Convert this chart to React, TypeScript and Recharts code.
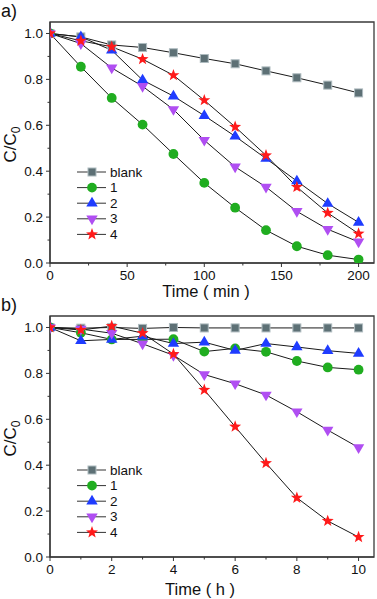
import React from "react";
import { LineChart, Line, XAxis, YAxis, ReferenceArea, Legend, Label } from "recharts";

const FONT = '"Liberation Sans", Arial, sans-serif';

// panel a) time in minutes
const TIME_A = [0, 20, 40, 60, 80, 100, 120, 140, 160, 180, 200];
const BLANK_A = [1.0, 0.985, 0.95, 0.939, 0.916, 0.891, 0.868, 0.837, 0.807, 0.775, 0.741];
const S1_A = [1.0, 0.855, 0.719, 0.603, 0.475, 0.349, 0.241, 0.143, 0.073, 0.034, 0.015];
const S2_A = [1.0, 0.985, 0.927, 0.797, 0.727, 0.642, 0.552, 0.455, 0.357, 0.259, 0.177];
const S3_A = [1.0, 0.956, 0.85, 0.77, 0.669, 0.535, 0.419, 0.331, 0.225, 0.147, 0.092];
const S4_A = [1.0, 0.968, 0.942, 0.888, 0.818, 0.709, 0.593, 0.469, 0.331, 0.218, 0.128];

// panel b) time in hours
const TIME_B = [0, 1, 2, 3, 4, 5, 6, 7, 8, 9, 10];
const BLANK_B = [1.0, 0.997, 1.0, 0.996, 1.0, 0.998, 0.998, 0.998, 0.998, 0.998, 0.998];
const S1_B = [1.0, 0.977, 0.948, 0.948, 0.949, 0.895, 0.909, 0.894, 0.854, 0.826, 0.816];
const S2_B = [1.0, 0.942, 0.948, 0.962, 0.93, 0.936, 0.9, 0.93, 0.915, 0.899, 0.887];
const S3_B = [1.0, 0.993, 0.975, 0.929, 0.879, 0.795, 0.755, 0.706, 0.633, 0.553, 0.477];
const S4_B = [1.0, 0.989, 1.006, 0.975, 0.884, 0.728, 0.568, 0.409, 0.258, 0.157, 0.087];

const X_TICKS_A = [0, 25, 50, 75, 100, 125, 150, 175, 200];
const X_MAJOR_A = [0, 50, 100, 150, 200];
const X_TICKS_B = [0, 1, 2, 3, 4, 5, 6, 7, 8, 9, 10];
const X_MAJOR_B = [0, 2, 4, 6, 8, 10];
const Y_TICKS = [0, 0.1, 0.2, 0.3, 0.4, 0.5, 0.6, 0.7, 0.8, 0.9, 1.0];
const Y_MAJOR = [0, 0.2, 0.4, 0.6, 0.8, 1.0];

const SERIES = [
  { key: "blank", name: "blank", shape: "square", color: "#5d7075" },
  { key: "s1", name: "1", shape: "circle", color: "#20ad20" },
  { key: "s2", name: "2", shape: "up", color: "#1f3cff" },
  { key: "s3", name: "3", shape: "down", color: "#b04ef2" },
  { key: "s4", name: "4", shape: "star", color: "#ff1a1a" },
];

function rows(t: number[], cols: number[][]) {
  return t.map((x, i) => ({
    t: x,
    blank: cols[0][i],
    s1: cols[1][i],
    s2: cols[2][i],
    s3: cols[3][i],
    s4: cols[4][i],
  }));
}

const DATA_A = rows(TIME_A, [BLANK_A, S1_A, S2_A, S3_A, S4_A]);
const DATA_B = rows(TIME_B, [BLANK_B, S1_B, S2_B, S3_B, S4_B]);

function starPath(cx: number, cy: number, ro: number, ri: number) {
  let d = "";
  for (let i = 0; i < 10; i++) {
    const r = i % 2 === 0 ? ro : ri;
    const a = -Math.PI / 2 + (i * Math.PI) / 5;
    d += (i === 0 ? "M" : "L") + (cx + r * Math.cos(a)).toFixed(2) + "," + (cy + r * Math.sin(a)).toFixed(2);
  }
  return d + "Z";
}

function Marker({ shape, color, cx, cy }: { shape: string; color: string; cx: number; cy: number }) {
  if (shape === "square")
    return <rect x={cx - 4} y={cy - 4} width={8} height={8} fill={color} stroke="#aebbbf" strokeWidth={1} />;
  if (shape === "circle") return <circle cx={cx} cy={cy} r={4.9} fill={color} />;
  if (shape === "up")
    return <path d={`M${cx},${cy - 6.4}L${cx + 5.7},${cy + 3.3}L${cx - 5.7},${cy + 3.3}Z`} fill={color} />;
  if (shape === "down")
    return <path d={`M${cx},${cy + 6.4}L${cx + 5.7},${cy - 3.3}L${cx - 5.7},${cy - 3.3}Z`} fill={color} />;
  return <path d={starPath(cx, cy, 6.3, 2.6)} fill={color} />;
}

function LegendBox() {
  return (
    <svg width={80} height={80} style={{ display: "block" }}>
      {SERIES.map((s, i) => (
        <g key={s.key} transform={`translate(0, ${i * 15.6})`}>
          <line x1={0} x2={29} y1={8} y2={8} stroke="#333" strokeWidth={1} />
          <Marker shape={s.shape} color={s.color} cx={15} cy={8} />
          <text x={33} y={12.5} fontSize={13.5} fontFamily={FONT} fill="#111">
            {s.name}
          </text>
        </g>
      ))}
    </svg>
  );
}

function makeXTick(major: number[]) {
  return (props: any) => {
    const { x, y, payload } = props;
    const isMajor = major.includes(payload.value);
    return (
      <g>
        <line x1={x} x2={x} y1={y} y2={y + (isMajor ? 4 : 2.5)} stroke="#333" strokeWidth={1} />
        {isMajor && (
          <text x={x} y={y + 17} textAnchor="middle" fontSize={13.5} fontFamily={FONT} fill="#111">
            {payload.value}
          </text>
        )}
      </g>
    );
  };
}

function YTick(props: any) {
  const { x, y, payload } = props;
  const isMajor = Y_MAJOR.some((m) => Math.abs(m - payload.value) < 1e-6);
  return (
    <g>
      <line x1={x - (isMajor ? 4 : 2.5)} x2={x} y1={y} y2={y} stroke="#333" strokeWidth={1} />
      {isMajor && (
        <text x={x - 7} y={y + 4.5} textAnchor="end" fontSize={13.5} fontFamily={FONT} fill="#111">
          {payload.value.toFixed(1)}
        </text>
      )}
    </g>
  );
}

interface PanelProps {
  data: any[];
  height: number;
  top: number;
  xAxisHeight: number;
  xMax: number;
  xTicks: number[];
  xMajor: number[];
  xLabel: string;
  xLabelCenter: number;
  xLabelOffset: number;
  legendTop: number;
}

function Panel(props: PanelProps) {
  const { data, height, top, xAxisHeight, xMax, xTicks, xMajor, xLabel, xLabelCenter, xLabelOffset, legendTop } = props;
  return (
    <LineChart width={377} height={height} data={data} margin={{ top, right: 3, left: 0, bottom: 0 }}>
      <XAxis
        dataKey="t"
        type="number"
        domain={[0, xMax]}
        ticks={xTicks}
        interval={0}
        height={xAxisHeight}
        tickSize={0}
        tickMargin={0}
        tickLine={false}
        tick={makeXTick(xMajor)}
        axisLine={{ stroke: "#333", strokeWidth: 1.2 }}
        allowDataOverflow
      >
        <Label
          content={(p: any) => (
            <text
              x={xLabelCenter}
              y={p.viewBox.y + xLabelOffset}
              textAnchor="middle"
              fontSize={16.5}
              fontFamily={FONT}
              fill="#111"
            >
              {xLabel}
            </text>
          )}
        />
      </XAxis>
      <YAxis
        type="number"
        domain={[0, 1.05]}
        ticks={Y_TICKS}
        interval={0}
        width={50}
        tickSize={0}
        tickMargin={0}
        tickLine={false}
        tick={YTick}
        axisLine={{ stroke: "#333", strokeWidth: 1.2 }}
        allowDataOverflow
      >
        <Label
          content={(p: any) => {
            const cy = p.viewBox.y + p.viewBox.height / 2 + 2;
            return (
              <text
                x={16}
                y={cy}
                transform={`rotate(-90, 16, ${cy})`}
                textAnchor="middle"
                fontSize={17}
                fontFamily={FONT}
                fill="#111"
              >
                C/C
                <tspan fontSize={12} dy={4}>
                  0
                </tspan>
              </text>
            );
          }}
        />
      </YAxis>
      <ReferenceArea x1={0} x2={xMax} y1={0} y2={1.05} fill="none" stroke="#3a3a3a" strokeWidth={1.3} ifOverflow="visible" />
      <Legend
        layout="vertical"
        align="center"
        verticalAlign="middle"
        content={() => <LegendBox />}
        wrapperStyle={{ left: 77, top: legendTop, width: 80 }}
      />
      {SERIES.map((s) => (
        <Line
          key={s.key}
          dataKey={s.key}
          name={s.name}
          stroke="#1a1a1a"
          strokeWidth={1}
          isAnimationActive={false}
          dot={(p: any) => <Marker key={`${s.key}-${p.index}`} shape={s.shape} color={s.color} cx={p.cx} cy={p.cy} />}
          activeDot={false}
        />
      ))}
    </LineChart>
  );
}

export default function App() {
  return (
    <div style={{ position: "absolute", left: 0, top: 0, width: 377, height: 599, background: "#fff", fontFamily: FONT }}>
      <div style={{ position: "absolute", left: 0, top: 0 }}>
        <Panel
          data={DATA_A}
          height={300}
          top={22}
          xAxisHeight={37}
          xMax={210}
          xTicks={X_TICKS_A}
          xMajor={X_MAJOR_A}
          xLabel="Time ( min )"
          xLabelCenter={206}
          xLabelOffset={34}
          legendTop={163.5}
        />
      </div>
      <div style={{ position: "absolute", left: 0, top: 300 }}>
        <Panel
          data={DATA_B}
          height={299}
          top={16}
          xAxisHeight={42}
          xMax={10.5}
          xTicks={X_TICKS_B}
          xMajor={X_MAJOR_B}
          xLabel="Time ( h )"
          xLabelCenter={200}
          xLabelOffset={38}
          legendTop={161.5}
        />
      </div>
      <svg width={377} height={599} style={{ position: "absolute", left: 0, top: 0, pointerEvents: "none" }}>
        <text x={1} y={17} fontSize={18} fontFamily={FONT} fill="#111">
          a)
        </text>
        <text x={1} y={311} fontSize={18} fontFamily={FONT} fill="#111">
          b)
        </text>
      </svg>
    </div>
  );
}
